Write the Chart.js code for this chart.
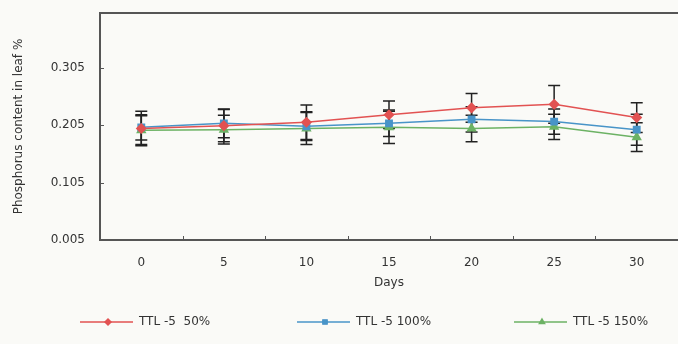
<!DOCTYPE html>
<html>
<head>
<meta charset="utf-8">
<script src="https://cdn.jsdelivr.net/npm/chart.js@4.4.0/dist/chart.umd.min.js"></script>
<style>
    html, body { margin: 0; padding: 0; background: #fafaf7; }
    #wrap { width: 678px; height: 344px; }
</style>
</head>
<body>
<div id="wrap"><canvas id="chart"></canvas></div>
<script>
// values
const days = ['0', '5', '10', '15', '20', '25', '30'];
const seriesNames = ['TTL -5  50%', 'TTL -5 100%', 'TTL -5 150%'];
const p50 = [0.199, 0.204, 0.210, 0.223, 0.235, 0.241, 0.218];
const p100 = [0.201, 0.208, 0.203, 0.208, 0.215, 0.211, 0.197];
const p150 = [0.196, 0.197, 0.199, 0.201, 0.199, 0.202, 0.184];
const err50 = [0.030, 0.028, 0.030, 0.024, 0.025, 0.033, 0.026];
const err100 = [0.022, 0.025, 0.025, 0.023, 0.022, 0.022, 0.027];
const err150 = [0.025, 0.025, 0.028, 0.028, 0.023, 0.022, 0.025];
const yTicks = [0.005, 0.105, 0.205, 0.305];

const colors = ['rgb(226, 82, 82)', 'rgb(72, 148, 200)', 'rgb(108, 178, 100)'];
const markers = ['rectRot', 'rect', 'triangle'];
const FONT = 'DejaVu Sans';
const AXIS = '#555';

const extrasPlugin = {
    id: 'extras',
    beforeDatasetsDraw(chart) {
        const ctx = chart.ctx;
        const x = chart.scales.x, y = chart.scales.y;
        ctx.save();
        ctx.strokeStyle = '#222';
        ctx.lineWidth = 1.5;
        chart.data.datasets.forEach(ds => {
            ds.errors.forEach((e, i) => {
                const px = x.getPixelForValue(i);
                const top = y.getPixelForValue(ds.data[i] + e);
                const bot = y.getPixelForValue(ds.data[i] - e);
                ctx.beginPath();
                ctx.moveTo(px, top); ctx.lineTo(px, bot);
                ctx.moveTo(px - 6, top); ctx.lineTo(px + 6, top);
                ctx.moveTo(px - 6, bot); ctx.lineTo(px + 6, bot);
                ctx.stroke();
            });
        });
        ctx.restore();
    },
    afterDraw(chart) {
        const ctx = chart.ctx;
        const area = chart.chartArea;
        const x = chart.scales.x, y = chart.scales.y;
        ctx.save();
        // top border
        ctx.strokeStyle = AXIS;
        ctx.lineWidth = 2;
        ctx.beginPath();
        ctx.moveTo(area.left, area.top);
        ctx.lineTo(area.right, area.top);
        ctx.stroke();
        // small inward ticks
        ctx.lineWidth = 1;
        ctx.beginPath();
        yTicks.forEach(v => {
            const py = Math.round(y.getPixelForValue(v)) + 0.5;
            ctx.moveTo(area.left, py); ctx.lineTo(area.left + 4, py);
        });
        const half = (x.getPixelForValue(1) - x.getPixelForValue(0)) / 2;
        for (let i = 0; i < days.length - 1; i++) {
            const px = Math.round(x.getPixelForValue(i) + half) + 0.5;
            ctx.moveTo(px, area.bottom); ctx.lineTo(px, area.bottom - 4);
        }
        ctx.stroke();

        // legend
        const ly = 322;
        ctx.font = '12px "' + FONT + '"';
        ctx.textBaseline = 'middle';
        chart.data.datasets.forEach((ds, i) => {
            const x0 = 80 + i * 217;
            ctx.strokeStyle = ds.borderColor;
            ctx.lineWidth = 1.5;
            ctx.beginPath();
            ctx.moveTo(x0, ly); ctx.lineTo(x0 + 53, ly);
            ctx.stroke();
            Chart.helpers.drawPoint(ctx, { pointStyle: ds.pointStyle, radius: 3, borderWidth: 1 }, x0 + 28, ly);
            ctx.fillStyle = ds.backgroundColor;
            ctx.fill();
            ctx.fillStyle = '#333';
            ctx.fillText(ds.label, x0 + 59, ly);
        });
        ctx.restore();
    }
};

function makeSet(i, data, errors) {
    return {
        label: seriesNames[i],
        data: data,
        errors: errors,
        borderColor: colors[i],
        backgroundColor: colors[i],
        borderWidth: 1.5,
        pointStyle: markers[i],
        pointRadius: 4.5,
        pointHoverRadius: 4.5,
        tension: 0
    };
}

new Chart(document.getElementById('chart'), {
    type: 'line',
    data: {
        labels: days,
        datasets: [makeSet(0, p50, err50), makeSet(1, p100, err100), makeSet(2, p150, err150)]
    },
    options: {
        responsive: true,
        maintainAspectRatio: false,
        animation: false,
        layout: { autoPadding: false, padding: { top: 13, left: 0, right: 0, bottom: 54 } },
        plugins: {
            legend: { display: false },
            tooltip: { enabled: false }
        },
        scales: {
            x: {
                offset: true,
                afterFit: scale => {
                    scale.height = 50;
                    scale.paddingLeft = 0;
                    scale.paddingRight = 0;
                },
                grid: { display: false, drawTicks: false },
                border: { display: true, color: AXIS, width: 2 },
                ticks: { color: '#333', padding: 16, font: { family: FONT, size: 12 } },
                title: { display: true, text: 'Days', color: '#333', padding: { top: 5, bottom: 0 }, font: { family: FONT, size: 12 } }
            },
            y: {
                min: 0.005,
                max: 0.4,
                afterBuildTicks: scale => { scale.ticks = yTicks.map(v => ({ value: v })); },
                afterFit: scale => {
                    scale.width = 100;
                    scale.paddingTop = 0;
                    scale.paddingBottom = 0;
                },
                grid: { display: false, drawTicks: false },
                border: { display: true, color: AXIS, width: 2 },
                ticks: {
                    color: '#333',
                    padding: 15,
                    font: { family: FONT, size: 12 },
                    callback: v => v.toFixed(3)
                },
                title: {
                    display: true,
                    text: 'Phosphorus content in leaf %',
                    color: '#333',
                    padding: { top: 12, bottom: 0 },
                    font: { family: FONT, size: 12 }
                }
            }
        }
    },
    plugins: [extrasPlugin]
});
</script>
</body>
</html>
